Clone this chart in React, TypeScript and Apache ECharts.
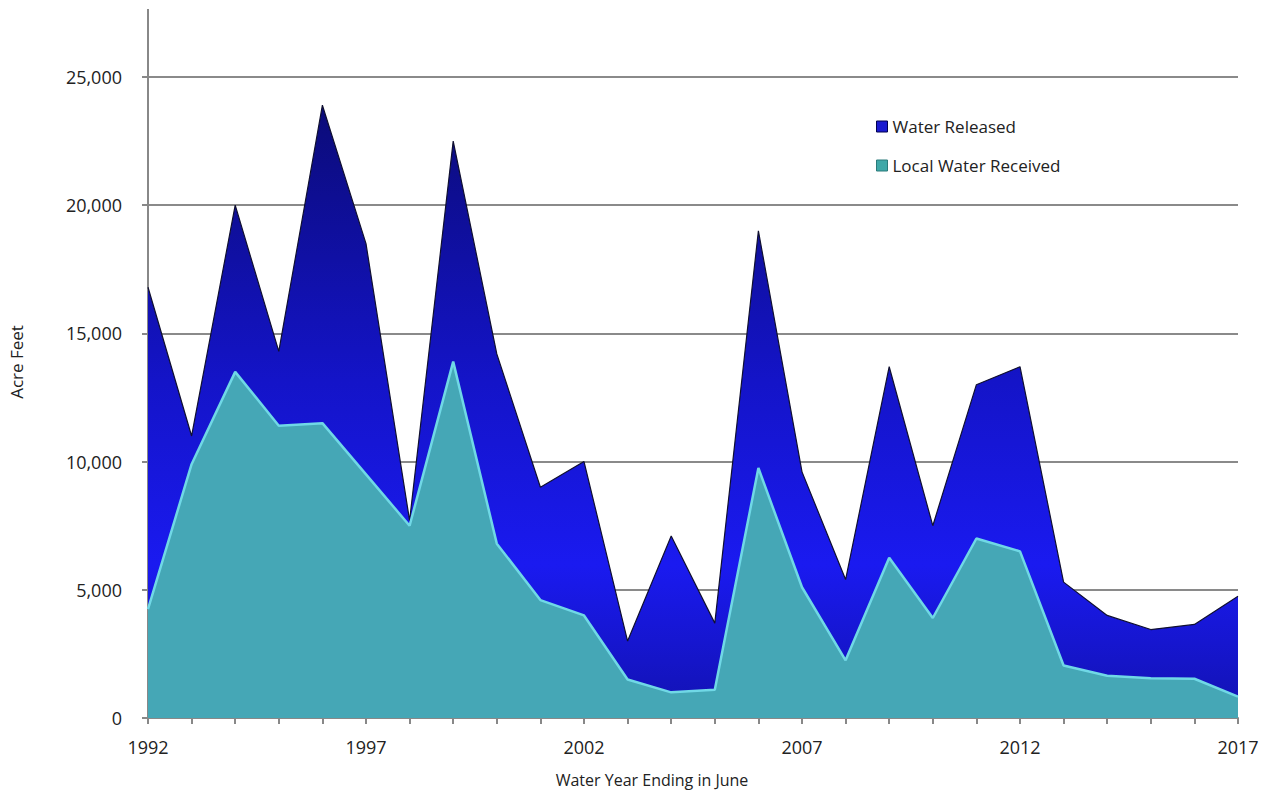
import React, { useEffect, useRef } from "react";
import * as echarts from "echarts";

const years = [
  "1992", "1993", "1994", "1995", "1996", "1997", "1998", "1999", "2000",
  "2001", "2002", "2003", "2004", "2005", "2006", "2007", "2008", "2009",
  "2010", "2011", "2012", "2013", "2014", "2015", "2016", "2017",
];

const waterReleased = [
  16800, 11000, 20000, 14300, 23900, 18500, 7700, 22500, 14200,
  9000, 10000, 3000, 7100, 3700, 19000, 9600, 5400, 13700,
  7500, 13000, 13700, 5300, 4000, 3450, 3650, 4750,
];

const localWaterReceived = [
  4250, 9900, 13500, 11400, 11500, 9500, 7500, 13900, 6800,
  4600, 4000, 1500, 1000, 1100, 9750, 5100, 2250, 6250,
  3900, 7000, 6500, 2050, 1650, 1550, 1530, 830,
];

const xTitle = "Water Year Ending in June";
const yTitle = "Acre Feet";

const FONT = "'Open Sans', 'Noto Sans', sans-serif";

function fmt(v: number): string {
  return String(v).replace(/\B(?=(\d{3})+(?!\d))/g, ",");
}

export default function App() {
  const ref = useRef<HTMLDivElement>(null);

  useEffect(() => {
    if (!ref.current) return;
    const chart = echarts.init(ref.current, undefined, { renderer: "svg" });
    chart.setOption({
      animation: false,
      backgroundColor: "#ffffff",
      grid: {
        left: 148,
        right: 29,
        top: 77,
        bottom: 77,
        containLabel: false,
        outerBoundsMode: "none",
      },
      legend: {
        orient: "vertical",
        left: 871,
        top: 113,
        itemWidth: 11,
        itemHeight: 11,
        itemGap: 22,
        icon: "rect",
        textStyle: { fontFamily: FONT, fontSize: 17, color: "#222" },
        data: [
          { name: "Water Released", itemStyle: { color: "#1a1ad0", borderColor: "#000050", borderWidth: 1 } },
          { name: "Local Water Received", itemStyle: { color: "#3fa8a8", borderColor: "#2a7a7a", borderWidth: 1 } },
        ],
      },
      xAxis: {
        type: "category",
        data: years,
        boundaryGap: false,
        axisLine: { lineStyle: { color: "#888", width: 2 } },
        axisTick: { show: true, interval: 0, length: 6, lineStyle: { color: "#888", width: 2 } },
        axisLabel: {
          interval: 4,
          fontFamily: FONT,
          fontSize: 18,
          color: "#222",
          margin: 20,
        },
        splitLine: { show: false },
      },
      yAxis: {
        type: "value",
        min: 0,
        max: 25000,
        interval: 5000,
        axisLine: { show: true, lineStyle: { color: "#888", width: 2 } },
        axisTick: { show: true, length: 6, lineStyle: { color: "#888", width: 2 } },
        axisLabel: {
          fontFamily: FONT,
          fontSize: 18,
          color: "#222",
          margin: 26,
          formatter: (v: number) => fmt(v),
        },
        splitLine: { show: true, lineStyle: { color: "#8a8a8a", width: 2 } },
      },
      graphic: [
        {
          type: "line",
          shape: { x1: 148, y1: 9, x2: 148, y2: 78 },
          style: { stroke: "#888", lineWidth: 2 },
          silent: true,
        },
        {
          type: "text",
          x: 652,
          y: 780,
          style: {
            text: xTitle,
            fontFamily: FONT,
            fontSize: 16,
            fill: "#222",
            align: "center",
            verticalAlign: "middle",
          },
          silent: true,
        },
        {
          type: "text",
          x: 16,
          y: 362,
          rotation: Math.PI / 2,
          style: {
            text: yTitle,
            fontFamily: FONT,
            fontSize: 17,
            fill: "#222",
            align: "center",
            verticalAlign: "middle",
          },
          silent: true,
        },
      ],
      series: [
        {
          name: "Water Released",
          type: "line",
          data: waterReleased,
          symbol: "none",
          lineStyle: { color: "#101030", width: 1.2 },
          itemStyle: { color: "#1a1ad0" },
          areaStyle: {
            opacity: 1,
            color: new echarts.graphic.LinearGradient(0, 0, 0, 1, [
              { offset: 0, color: "#0b0b78" },
              { offset: 0.45, color: "#1414c8" },
              { offset: 0.75, color: "#1a1af0" },
              { offset: 1, color: "#1212b0" },
            ]),
          },
          z: 2,
        },
        {
          name: "Local Water Received",
          type: "line",
          data: localWaterReceived,
          symbol: "none",
          lineStyle: { color: "#70d8e6", width: 2.5 },
          itemStyle: { color: "#3fa8a8" },
          areaStyle: { opacity: 1, color: "#45a7b6" },
          z: 3,
        },
      ],
    });
    return () => chart.dispose();
  }, []);

  return (
    <div
      ref={ref}
      style={{ position: "fixed", left: 0, top: 0, width: 1267, height: 795 }}
    />
  );
}
